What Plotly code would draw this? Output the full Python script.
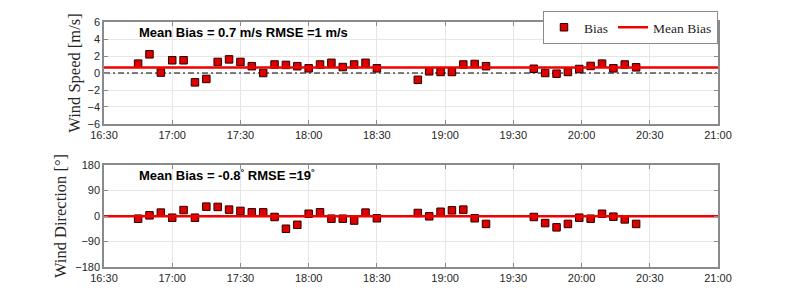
import plotly.graph_objects as go

DAY = "2021-01-01 "
times = ["16:45", "16:50", "16:55", "17:00", "17:05", "17:10", "17:15", "17:20",
         "17:25", "17:30", "17:35", "17:40", "17:45", "17:50", "17:55", "18:00",
         "18:05", "18:10", "18:15", "18:20", "18:25", "18:30",
         "18:48", "18:53", "18:58", "19:03", "19:08", "19:13", "19:18",
         "19:39", "19:44", "19:49", "19:54", "19:59", "20:04", "20:09", "20:14",
         "20:19", "20:24"]
speed_bias = [1.1, 2.2, 0.05, 1.5, 1.5, -1.1, -0.7, 1.3, 1.6, 1.3, 0.8, 0.0,
              1.0, 0.95, 0.8, 0.55, 1.0, 1.2, 0.7, 1.0, 1.2, 0.55,
              -0.8, 0.2, 0.12, 0.12, 1.0, 1.06, 0.8,
              0.5, 0.0, -0.08, 0.12, 0.47, 0.83, 1.1, 0.55, 1.0, 0.67]
dir_bias = [-9.5, 2.4, 12, -6, 21, -6, 33, 32, 22.5, 18, 13, 13, -3.5, -45, -31,
            8, 13, -9.5, -9.5, -16, 12, -8,
            10.7, -1, 15, 20, 22.5, -8, -28,
            -3.5, -25, -40, -28, -6, -9.5, 8, -2.4, -12, -28]
speed_mean = 0.66
dir_mean = -0.8
x_range = ["16:30", "21:00"]
x_ticks = ["16:30", "17:00", "17:30", "18:00", "18:30", "19:00", "19:30", "20:00", "20:30", "21:00"]

t = [DAY + s for s in times]
xr = [DAY + s for s in x_range]
xt = [DAY + s for s in x_ticks]

RED_FILL = "#dd0000"
RED_LINE = "#f20000"
SANS = "Liberation Sans, Arial, sans-serif"
SERIF = "Liberation Serif, Times New Roman, serif"

marker = dict(symbol="square", size=7.5, color=RED_FILL, line=dict(color="#2b0000", width=1))

fig = go.Figure()
# top panel
fig.add_trace(go.Scatter(x=xr, y=[0, 0], mode="lines", showlegend=False,
                         line=dict(color="black", width=1, dash="6px,3px,2px,3px"),
                         xaxis="x", yaxis="y", hoverinfo="skip"))
fig.add_trace(go.Scatter(x=t, y=speed_bias, mode="markers", name="Bias", marker=marker,
                         xaxis="x", yaxis="y"))
fig.add_trace(go.Scatter(x=xr, y=[speed_mean, speed_mean], mode="lines", name="Mean Bias",
                         line=dict(color=RED_LINE, width=2.5), xaxis="x", yaxis="y"))
# bottom panel
fig.add_trace(go.Scatter(x=t, y=dir_bias, mode="markers", showlegend=False, marker=marker,
                         xaxis="x2", yaxis="y2"))
fig.add_trace(go.Scatter(x=xr, y=[dir_mean, dir_mean], mode="lines", showlegend=False,
                         line=dict(color=RED_LINE, width=2.5), xaxis="x2", yaxis="y2"))

axis_common = dict(showline=True, linecolor="#8a8a8a", linewidth=1.5, mirror="ticks",
                   ticks="inside", ticklen=4, tickcolor="#8a8a8a", showgrid=True,
                   gridcolor="#e6e6e6", gridwidth=1, zeroline=False,
                   tickfont=dict(family=SANS, size=11, color="#262626"))

xcommon = dict(axis_common, type="date", range=xr, tickvals=xt, tickformat="%H:%M")

fig.update_layout(
    width=787, height=292,
    margin=dict(l=96, r=77, t=14, b=33, autoexpand=False),
    paper_bgcolor="white", plot_bgcolor="white",
    showlegend=True,
    legend=dict(orientation="h", x=1, xanchor="right", y=1.045, yanchor="top",
                bgcolor="white", bordercolor="#8a8a8a", borderwidth=1,
                font=dict(family=SERIF, size=13.5, color="#262626"),
                itemwidth=30, tracegroupgap=0),
    xaxis=dict(xcommon, domain=[0, 1], anchor="y"),
    yaxis=dict(axis_common, domain=[0.5837, 1], anchor="x", range=[-6, 6], dtick=2,
               title=dict(text="Wind Speed [m/s]", standoff=3,
                          font=dict(family=SERIF, size=16.5, color="#262626"))),
    xaxis2=dict(xcommon, domain=[0, 1], anchor="y2"),
    yaxis2=dict(axis_common, domain=[0, 0.4163], anchor="x2", range=[-180, 180], dtick=90,
                title=dict(text="Wind Direction [°]", standoff=4,
                           font=dict(family=SERIF, size=16.5, color="#262626"))),
    annotations=[
        dict(text="<b>Mean Bias = 0.7 m/s RMSE =1 m/s</b>", xref="paper", yref="paper",
             x=0.0537, y=0.959, xanchor="left", yanchor="middle", showarrow=False,
             font=dict(family=SANS, size=13, color="black")),
        dict(text="<b>Mean Bias = -0.8<sup>°</sup> RMSE =19<sup>°</sup></b>", xref="paper",
             yref="paper", x=0.0537, y=0.375, xanchor="left", yanchor="middle",
             showarrow=False, font=dict(family=SANS, size=13, color="black")),
    ],
)

fig.write_html("out.html")
